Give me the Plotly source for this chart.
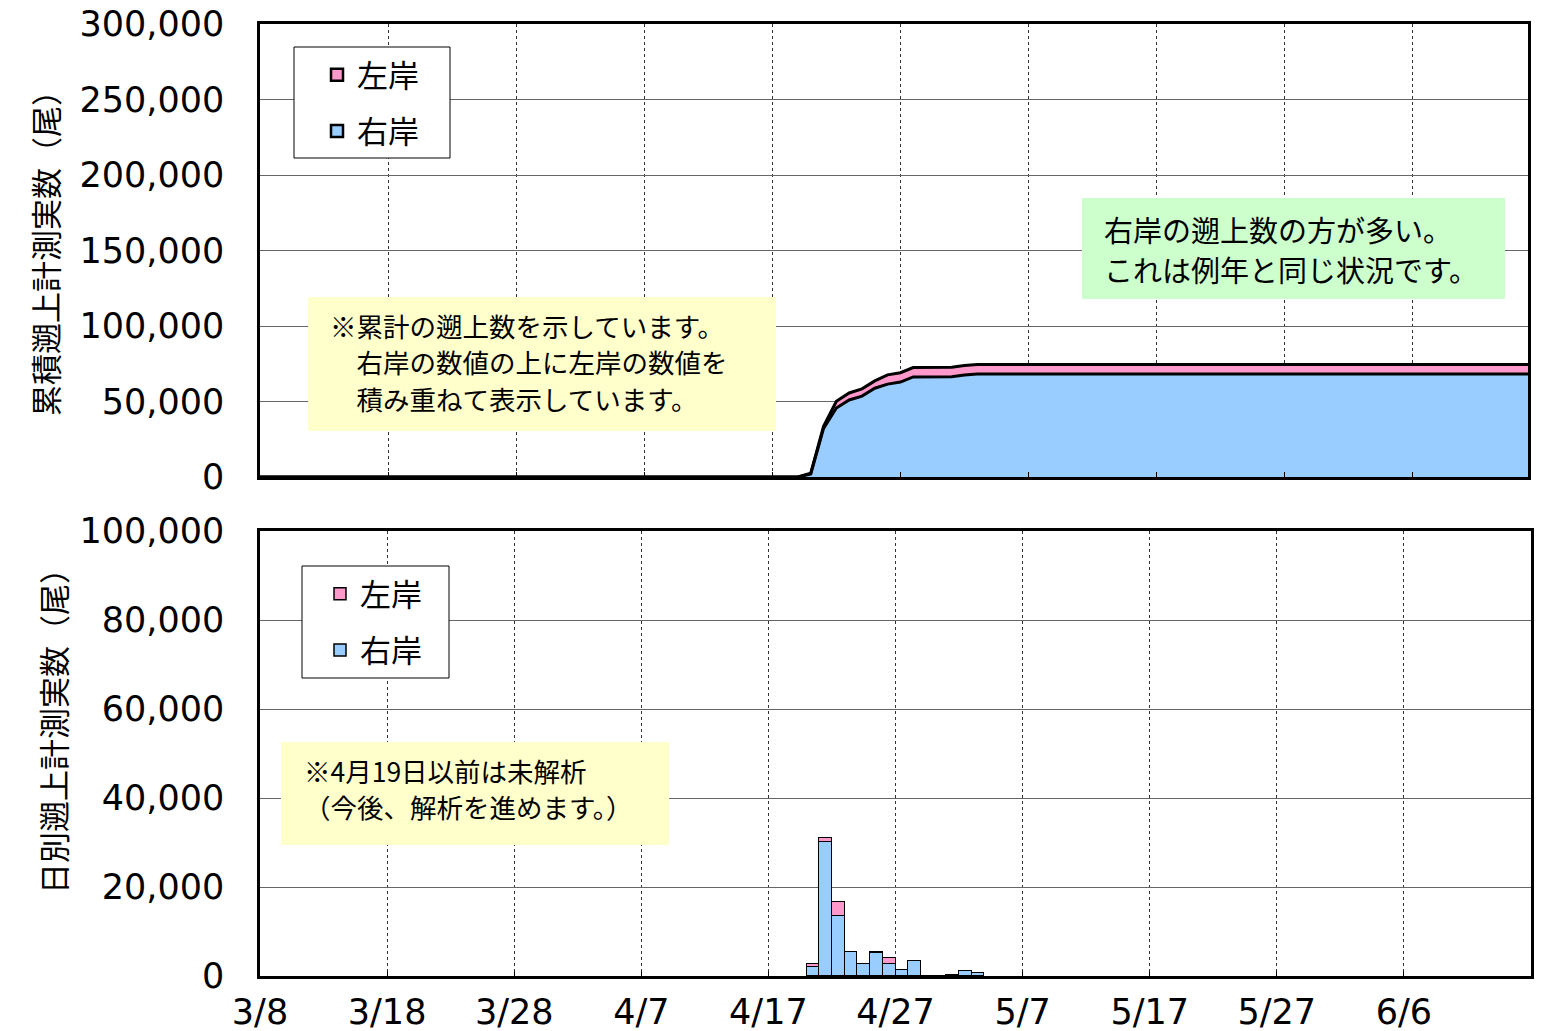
import pandas as pd
import plotly.graph_objects as go

# ---------------- data ----------------
YEAR = 2010
daily_dates = ["4/20", "4/21", "4/22", "4/23", "4/24", "4/25", "4/26",
               "4/27", "4/28", "4/29", "4/30", "5/1", "5/2", "5/3"]
right_bank = [2000, 30200, 13500, 5300, 2600, 5200, 2700,
              1350, 3400, 0, 0, 200, 1100, 600]          # 右岸 (daily)
left_bank = [600, 800, 3100, 150, 100, 100, 1270,
             70, 60, 0, 0, 0, 60, 30]                       # 左岸 (daily)

x_tick_labels = ["3/8", "3/18", "3/28", "4/7", "4/17", "4/27", "5/7", "5/17", "5/27", "6/6"]
x_start = "3/8"
x_end_top = "6/15"
x_end_bottom = "6/16"

series_names = ["右岸", "左岸"]
y1_title = "累積遡上計測実数（尾）"
y2_title = "日別遡上計測実数（尾）"
note_top = ["※累計の遡上数を示しています。", "　右岸の数値の上に左岸の数値を", "　積み重ねて表示しています。"]
note_green = ["右岸の遡上数の方が多い。", "これは例年と同じ状況です。"]
note_bottom = ["※4月19日以前は未解析", "（今後、解析を進めます。）"]

# ---------------- derived ----------------
def d(s):
    m, dd = s.split("/")
    return pd.Timestamp(year=YEAR, month=int(m), day=int(dd))

dd_dates = [d(s) for s in daily_dates]
full_dates = pd.date_range(d(x_start), d(x_end_top), freq="D")
rb = pd.Series(right_bank, index=dd_dates).reindex(full_dates, fill_value=0)
lb = pd.Series(left_bank, index=dd_dates).reindex(full_dates, fill_value=0)
rb_cum = rb.cumsum()
lb_cum = lb.cumsum()
tick_vals = [d(s) for s in x_tick_labels]

BLUE = "#99CCFF"
PINK = "#FF99CC"
CJK = "Noto Sans CJK JP"
NUM = "DejaVu Sans"
DAY_MS = 86400000

fig = go.Figure()

# top: stacked cumulative area
fig.add_trace(go.Scatter(x=full_dates, y=rb_cum.values, stackgroup="cum", name=series_names[0],
                         mode="lines", line=dict(color="black", width=3), fillcolor=BLUE,
                         showlegend=False, xaxis="x", yaxis="y"))
fig.add_trace(go.Scatter(x=full_dates, y=lb_cum.values, stackgroup="cum", name=series_names[1],
                         mode="lines", line=dict(color="black", width=3), fillcolor=PINK,
                         showlegend=False, xaxis="x", yaxis="y"))
# legend entries for top panel
fig.add_trace(go.Bar(x=[None], y=[None], name=series_names[1],
                     marker=dict(color=PINK, line=dict(color="black", width=2.5)),
                     legend="legend", legendgroup="tl", legendrank=1, xaxis="x", yaxis="y"))
fig.add_trace(go.Bar(x=[None], y=[None], name=series_names[0],
                     marker=dict(color=BLUE, line=dict(color="black", width=2.5)),
                     legend="legend", legendgroup="tr", legendrank=2, xaxis="x", yaxis="y"))

# bottom: stacked daily bars
fig.add_trace(go.Bar(x=dd_dates, y=right_bank, name=series_names[0], xperiod=DAY_MS, xperiodalignment="middle",
                     width=DAY_MS, marker=dict(color=BLUE, line=dict(color="black", width=1.5)),
                     legend="legend2", legendgroup="br", legendrank=2, xaxis="x2", yaxis="y2"))
fig.add_trace(go.Bar(x=dd_dates, y=left_bank, name=series_names[1], xperiod=DAY_MS, xperiodalignment="middle",
                     width=DAY_MS, marker=dict(color=PINK, line=dict(color="black", width=1.5)),
                     legend="legend2", legendgroup="bl", legendrank=1, xaxis="x2", yaxis="y2"))

# ---------------- layout ----------------
OFF = 8                      # page body margin
W, H = 1542 - OFF, 1031 - OFF
ML, MT = 260 - OFF, 24 - OFF
MR = W - (1531 - OFF)
MB = H - (976 - OFF)
PW, PH = W - ML - MR, H - MT - MB

def px(x):   # x in target-page pixels -> paper fraction
    return (x - OFF - ML) / PW

def py(y):
    return (H - MB - (y - OFF)) / PH

xcommon = dict(type="date", tickmode="array", tickvals=tick_vals, ticktext=x_tick_labels,
               showgrid=True, gridcolor="#333333", gridwidth=1, griddash="dot",
               showline=True, linecolor="black", linewidth=2.5, mirror=True,
               ticks="inside", ticklen=5, tickcolor="black", automargin=False, zeroline=False,
               ticklabeloverflow="allow")
ycommon = dict(showgrid=True, gridcolor="#666666", gridwidth=1, showline=True, linecolor="black",
               linewidth=2.5, mirror=True, ticks="", tickformat=",", automargin=False, zeroline=False,
               tickfont=dict(family=NUM, size=35, color="black"), ticklabelstandoff=26,
               ticklabeloverflow="allow")

legend_common = dict(xanchor="left", yanchor="top", bgcolor="rgba(0,0,0,0)", borderwidth=0,
                     font=dict(family=CJK, size=31, color="black"), tracegroupgap=13, traceorder="grouped")

fig.update_layout(
    width=W, height=H,
    margin=dict(l=ML, r=MR, t=MT, b=MB),
    paper_bgcolor="white", plot_bgcolor="white",
    barmode="stack", bargap=0,
    showlegend=True,
    xaxis=dict(**xcommon, domain=[0, px(1528)], range=[d(x_start), d(x_end_top)],
               showticklabels=False, anchor="y"),
    yaxis=dict(**ycommon, domain=[py(477), 1], range=[0, 300000], dtick=50000, anchor="x"),
    xaxis2=dict(**xcommon, domain=[0, 1], range=[d(x_start), d(x_end_bottom)],
                tickfont=dict(family=NUM, size=35, color="black"), ticklabelstandoff=3, anchor="y2"),
    yaxis2=dict(**ycommon, domain=[0, py(531)], range=[0, 100000], dtick=20000, anchor="x2"),
    legend=dict(**legend_common, x=px(317), y=py(48)),
    legend2=dict(**legend_common, x=px(320), y=py(567)),
)

# boxes (legend frames and note backgrounds)
def rect(x0, y0, x1, y1, fill, line_w):
    return dict(type="rect", xref="paper", yref="paper", x0=px(x0), x1=px(x1), y0=py(y1), y1=py(y0),
                fillcolor=fill, line=dict(color="black", width=line_w), layer="above")

shapes = [
    rect(294, 47, 450, 158, "white", 1),
    rect(302, 566, 449, 678, "white", 1),
    rect(308, 297, 776, 431, "#FFFFCC", 0),
    rect(1082, 198, 1505, 299, "#CCFFCC", 0),
    rect(281, 742, 669, 845, "#FFFFCC", 0),
]
fig.update_layout(shapes=shapes)

annotations = [
    dict(text=y1_title, x=px(45), y=py(246), textangle=-90, xanchor="center",
         font=dict(family=CJK, size=31, color="black")),
    dict(text=y2_title, x=px(52), y=py(723), textangle=-90, xanchor="center",
         font=dict(family=CJK, size=31, color="black")),
]
for text, yy in zip(note_top, [325, 361.5, 398]):
    annotations.append(dict(text=text, x=px(328), y=py(yy), xanchor="left",
                            font=dict(family=CJK, size=26.5, color="black")))
for text, yy in zip(note_green, [229, 269]):
    annotations.append(dict(text=text, x=px(1102), y=py(yy), xanchor="left",
                            font=dict(family=CJK, size=29, color="black")))
for text, yy in zip(note_bottom, [770, 806]):
    annotations.append(dict(text=text, x=px(302), y=py(yy), xanchor="left",
                            font=dict(family=CJK, size=26.5, color="black")))
for a in annotations:
    a.update(xref="paper", yref="paper", showarrow=False, yanchor="middle")
fig.update_layout(annotations=annotations)

fig.write_html("out.html")
